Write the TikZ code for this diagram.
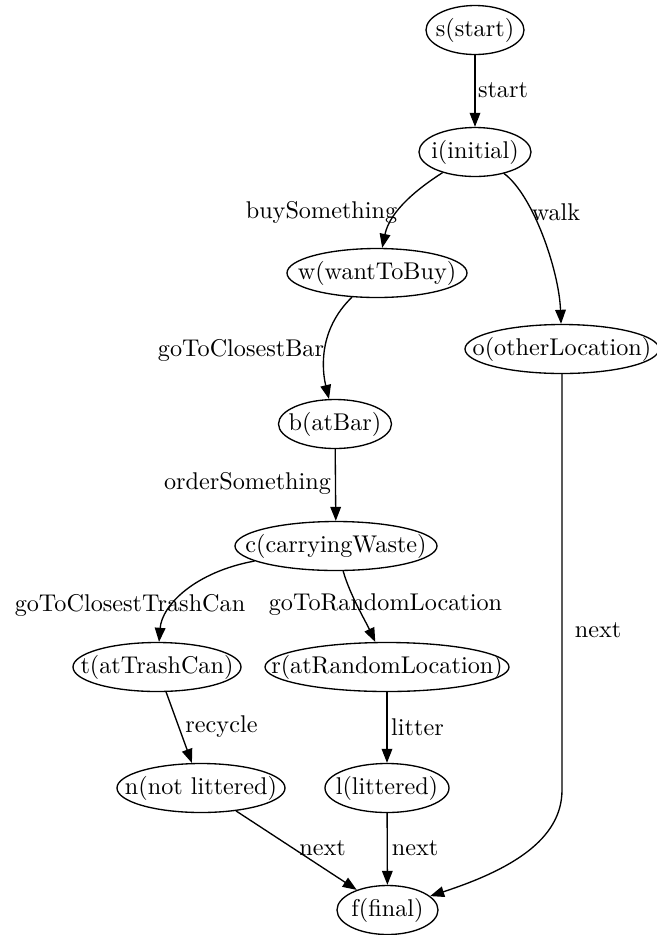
\documentclass[tikz,border=0pt]{standalone}
\usetikzlibrary{shapes.geometric,arrows.meta}
\begin{document}
\begin{tikzpicture}[x=0.413pt,y=-0.413pt,
  st/.style={ellipse,draw,line width=0.55pt,inner xsep=-40pt,inner ysep=-10pt,minimum height=49*0.413pt,minimum width=#1*0.413pt},
  arr/.style={draw,line width=0.55pt,-{Triangle[length=5.8pt,width=4.4pt]}},
  lbl/.style={inner sep=0pt}]
\useasboundingbox[fill=white] (0,0) rectangle (657,935);
% nodes
\node[st=98]  (s) at (475,30)  {s(start)};
\node[st=112] (i) at (475,152) {i(initial)};
\node[st=180] (w) at (377,273) {w(wantToBuy)};
\node[st=194] (o) at (562,349) {o(otherLocation)};
\node[st=113] (b) at (335,424) {b(atBar)};
\node[st=202] (c) at (336,546) {c(carryingWaste)};
\node[st=168] (t) at (157,667) {t(atTrashCan)};
\node[st=244] (r) at (387,667) {r(atRandomLocation)};
\node[st=168] (n) at (201,788) {n(not littered)};
\node[st=124] (l) at (387,788) {l(littered)};
\node[st=101] (f) at (387.5,910) {f(final)};
% edges
\draw[arr] (s) -- (i);
\draw[arr] (i) .. controls (420,187) and (390,210) .. (w);
\draw[arr] (i) .. controls (533,195) and (559,270) .. (o);
\draw[arr] (w) .. controls (318,330) and (322,370) .. (b);
\draw[arr] (b) -- (c);
\draw[arr] (c) .. controls (195,572) and (162,605) .. (t);
\draw[arr] (c) .. controls (350,595) and (365,620) .. (r);
\draw[arr] (t) -- (n);
\draw[arr] (r) -- (l);
\draw[arr] (n) -- (f);
\draw[arr] (l) -- (f);
\coordinate (obend) at (562,790);
\draw[arr] (o.south) -- (obend) .. controls (562,840) and (510,870) .. (f);
% labels
\node[lbl] (ls) at (503,90) {start};
\node[lbl] (lbuy) at (321.5,212) {buySomething};
\node[lbl] (lwalk) at (556,212) {walk};
\node[lbl] (lbar) at (241,350) {goToClosestBar};
\node[lbl] (lord) at (247.5,483) {orderSomething};
\node[lbl] (ltc) at (130,605) {goToClosestTrashCan};
\node[lbl] (lrl) at (385.5,605) {goToRandomLocation};
\node[lbl] (lrec) at (221.5,727) {recycle};
\node[lbl] (llit) at (417.5,727) {litter};
\node[lbl] (ln1) at (322.5,848) {next};
\node[lbl] (ln2) at (415,848) {next};
\node[lbl] (ln3) at (598,630) {next};
\end{tikzpicture}
\end{document}
